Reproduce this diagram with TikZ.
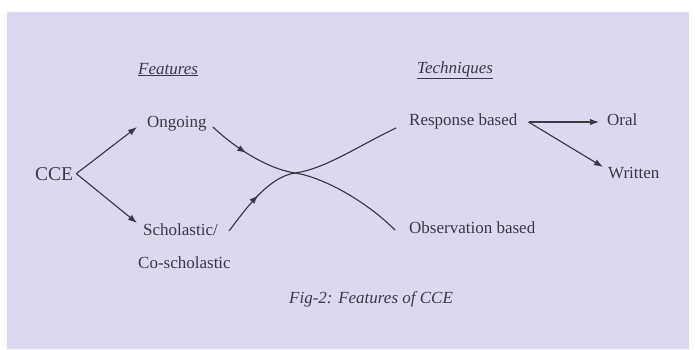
\documentclass[tikz,border=0pt]{standalone}
\usepackage{fontspec}
\setmainfont{Liberation Serif}
\usetikzlibrary{arrows.meta,decorations.markings}
\definecolor{paper}{HTML}{DCD8EE}
\definecolor{ink}{HTML}{3A3946}

\begin{document}
\begin{tikzpicture}[x=1pt,y=-1pt,
  lbl/.style={anchor=base west, inner sep=0pt, text=ink, font=\fontsize{17}{20}\selectfont},
  link/.style={draw=ink, line width=1.15pt, -{Latex[length=9pt,width=6.5pt]}},
  cross/.style={draw=ink, line width=1.15pt, postaction={decorate},
    decoration={markings, mark=at position #1 with {\arrow{Latex[length=9pt,width=6.5pt]}}}}]
\fill[white] (0,0) rectangle (695,349);
\fill[paper] (7,12) rectangle (689,349);
\useasboundingbox (0,0) rectangle (695,349);

% left side
\node[lbl, font=\fontsize{19.5}{22}\selectfont] (cce) at (35,180) {CCE};
\node[lbl] (feat) at (138,74) {\underline{\textit{Features}}};
\node[lbl] (ongoing) at (147,127) {Ongoing};
\node[lbl] (schol) at (143,235) {Scholastic/};
\node[lbl] (cosch) at (138,268) {Co-scholastic};

% right side
\node[lbl] (tech) at (417,73) {\underline{\textit{Techniques}}};
\node[lbl] (resp) at (409,125) {Response based};
\node[lbl] (obs) at (409,233) {Observation based};
\node[lbl] (oral) at (607,125) {Oral};
\node[lbl] (written) at (608,178) {Written};

\node[lbl] (caption) at (289,303) {\textit{Fig-2: Features of CCE}};

\draw[link] ([shift={(3,0)}]cce.east) -- ([shift={(-10,0)}]ongoing.base west);
\draw[link] ([shift={(3,0)}]cce.east) -- ([shift={(-6,-12)}]schol.base west);

% the two curves meeting in the middle
\draw[cross=0.2] ([shift={(6,0)}]ongoing.base east)
  .. controls (235,148) and (268,169) .. (295,173)
  .. controls (322,177) and (365,200) .. ([shift={(-14,-3)}]obs.base west);
\draw[cross=0.23] ([shift={(11,-4)}]schol.base east)
  .. controls (245,210) and (268,177) .. (295,173)
  .. controls (325,169) and (360,145) .. ([shift={(-13,3)}]resp.base west);

\draw[link] ([shift={(11,-3)}]resp.base east) -- ([shift={(-8,-3)}]oral.base west);
\draw[link] ([shift={(11,-3)}]resp.base east) -- ([shift={(-5,-11)}]written.base west);
\end{tikzpicture}
\end{document}
